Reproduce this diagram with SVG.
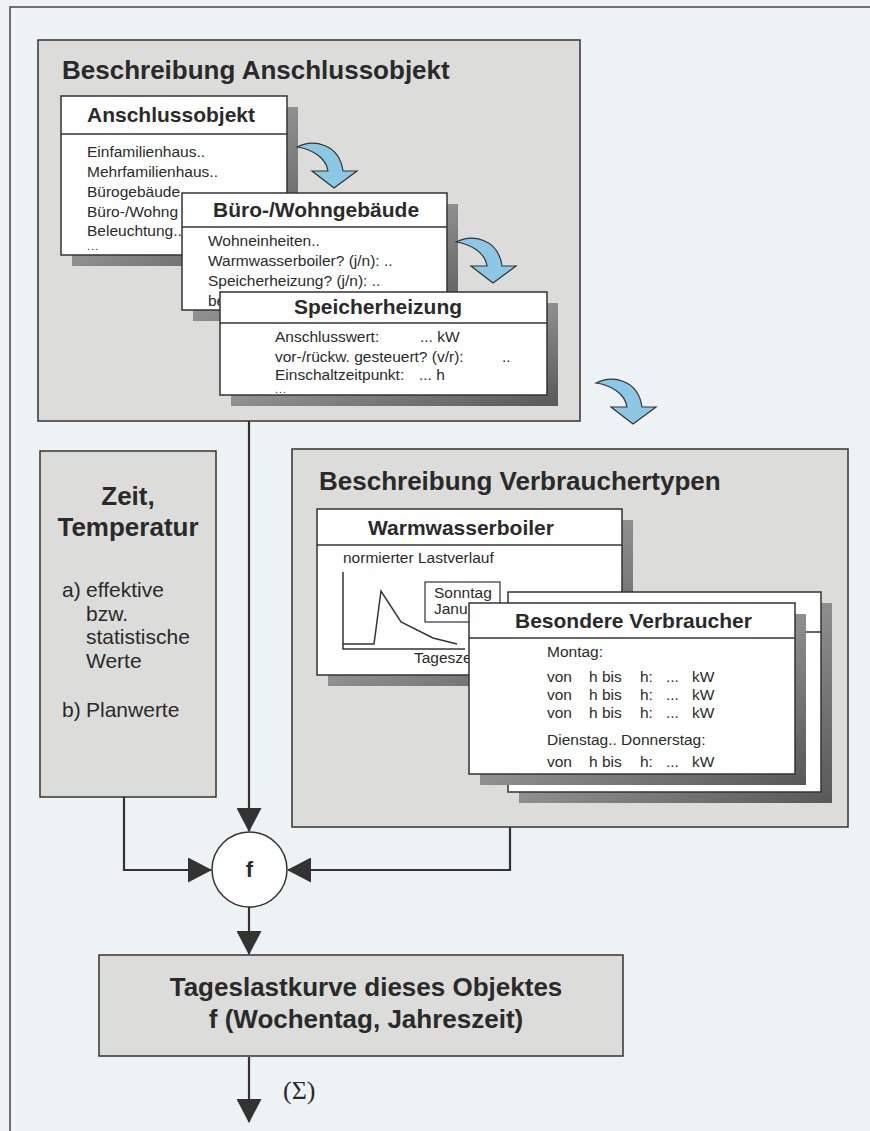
<svg xmlns="http://www.w3.org/2000/svg" width="870" height="1131" viewBox="0 0 870 1131">
<style>
.bg{fill:#edf2f5}
.frame{fill:none;stroke:#444;stroke-width:1.5}
.panel{fill:#dcdcda;stroke:#333;stroke-width:1.5}
.box{fill:#fff;stroke:#333;stroke-width:1.5}
.div{stroke:#333;stroke-width:1.5}
.shadow{fill:url(#sh)}
.t1{font-family:"Liberation Sans",Arial,sans-serif;font-weight:bold;font-size:26px;fill:#2a2a2a}
.t2{font-family:"Liberation Sans",Arial,sans-serif;font-weight:bold;font-size:21px;fill:#2a2a2a}
.t3{font-family:"Liberation Sans",Arial,sans-serif;font-size:15.5px;fill:#2a2a2a}
.dots{font-family:"Liberation Sans",Arial,sans-serif;font-size:11px;letter-spacing:1px;fill:#2a2a2a}
.t4{font-family:"Liberation Sans",Arial,sans-serif;font-size:21px;fill:#2a2a2a}
.conn{fill:none;stroke:#333;stroke-width:2.2}
.chart{fill:none;stroke:#333;stroke-width:1.5}
.barrow{fill:#8cc8e6;stroke:#333;stroke-width:1.2;stroke-linejoin:miter}
</style>
<defs>
<linearGradient id="sh" x1="0" y1="0" x2="1" y2="1">
<stop offset="0" stop-color="#c4c4c4"/>
<stop offset="1" stop-color="#585858"/>
</linearGradient>
<marker id="ah" viewBox="0 0 24 25" markerWidth="24" markerHeight="25" refX="23" refY="12.5" orient="auto" markerUnits="userSpaceOnUse">
<path d="M0,0 L24,12.5 L0,25 Z" fill="#333"/>
</marker>
<path id="curl" d="M0,0 C16,-8 42,-4 46,24 L60,24 L37,41 L15,24 L31,24 C29,10 14,2 0,0 Z"/>
</defs>
<rect class="bg" x="0" y="0" width="870" height="1131"/>
<path class="frame" d="M10,1131 V7 H870"/>

<g id="panel-anschluss">
<rect class="panel" x="38" y="40" width="542" height="381"/>
<text class="t1" x="62" y="79">Beschreibung Anschlussobjekt</text>
</g>

<g id="box-anschlussobjekt">
<rect class="shadow" x="72" y="107" width="226" height="159"/>
<rect class="box" x="61" y="96" width="226" height="159"/>
<line class="div" x1="61" y1="134" x2="287" y2="134"/>
<text class="t2" x="87" y="122">Anschlussobjekt</text>
<text class="t3" x="87" y="157">Einfamilienhaus..</text>
<text class="t3" x="87" y="177">Mehrfamilienhaus..</text>
<text class="t3" x="87" y="197">Bürogebäude</text>
<text class="t3" x="87" y="217">Büro-/Wohng</text>
<text class="t3" x="87" y="236">Beleuchtung..</text>
<text class="dots" x="87" y="250">...</text>
</g>

<g id="arrow-1"><use href="#curl" class="barrow" transform="translate(297,147)"/></g>

<g id="box-buero">
<rect class="shadow" x="193" y="204" width="265" height="117"/>
<rect class="box" x="182" y="193" width="265" height="117"/>
<line class="div" x1="182" y1="227" x2="447" y2="227"/>
<text class="t2" x="213" y="217">Büro-/Wohngebäude</text>
<text class="t3" x="208" y="246">Wohneinheiten..</text>
<text class="t3" x="208" y="266">Warmwasserboiler? (j/n): ..</text>
<text class="t3" x="208" y="286">Speicherheizung? (j/n): ..</text>
<text class="t3" x="208" y="306">be</text>
</g>

<g id="arrow-2"><use href="#curl" class="barrow" transform="translate(456,242)"/></g>

<g id="box-speicher">
<rect class="shadow" x="231" y="303" width="327" height="103"/>
<rect class="box" x="220" y="292" width="327" height="103"/>
<line class="div" x1="220" y1="323" x2="547" y2="323"/>
<text class="t2" x="294" y="314">Speicherheizung</text>
<text class="t3" x="275" y="342">Anschlusswert:</text>
<text class="t3" x="420" y="342">... kW</text>
<text class="t3" x="275" y="362">vor-/rückw. gesteuert? (v/r):</text>
<text class="t3" x="502" y="362">..</text>
<text class="t3" x="275" y="380">Einschaltzeitpunkt:</text>
<text class="t3" x="419" y="380">... h</text>
<text class="dots" x="275" y="393">...</text>
</g>

<g id="arrow-3"><use href="#curl" class="barrow" transform="translate(596,383)"/></g>

<g id="panel-zeit">
<rect class="panel" x="40" y="451" width="176" height="346"/>
<text class="t1" x="128" y="505" text-anchor="middle">Zeit,</text>
<text class="t1" x="128" y="536" text-anchor="middle">Temperatur</text>
<text class="t4" x="62" y="597">a)</text>
<text class="t4" x="86" y="597">effektive</text>
<text class="t4" x="86" y="621">bzw.</text>
<text class="t4" x="86" y="644">statistische</text>
<text class="t4" x="86" y="668">Werte</text>
<text class="t4" x="62" y="717">b)</text>
<text class="t4" x="86" y="717">Planwerte</text>
</g>

<g id="panel-verbraucher">
<rect class="panel" x="292" y="449" width="556" height="378"/>
<text class="t1" x="319" y="490">Beschreibung Verbrauchertypen</text>
</g>

<g id="box-warmwasser">
<rect class="shadow" x="328" y="520" width="305" height="166"/>
<rect class="box" x="317" y="509" width="305" height="166"/>
<line class="div" x1="317" y1="545" x2="622" y2="545"/>
<text class="t2" x="368" y="535">Warmwasserboiler</text>
<text class="t3" x="343" y="563">normierter Lastverlauf</text>
<path class="chart" d="M343,572 V649 H465"/>
<polyline class="chart" points="343,644 374,644 381,591 401,622 433,638 457,644"/>
<rect class="box" x="425" y="582" width="75" height="40" style="stroke-width:1.2"/>
<text class="t3" x="434" y="598">Sonntag</text>
<text class="t3" x="434" y="614">Janu</text>
<text class="t3" x="414" y="663">Tagesze</text>
</g>

<g id="box-middle">
<rect class="shadow" x="519" y="603" width="313" height="200"/>
<rect class="box" x="508" y="592" width="313" height="200"/>
<line class="div" x1="508" y1="632" x2="821" y2="632"/>
</g>

<g id="box-besondere">
<rect class="shadow" x="480" y="614" width="326" height="171"/>
<rect class="box" x="469" y="603" width="326" height="171"/>
<line class="div" x1="469" y1="638" x2="795" y2="638"/>
<text class="t2" x="515" y="628">Besondere Verbraucher</text>
<text class="t3" x="547" y="657">Montag:</text>
<g class="t3">
<text x="547" y="682">von</text><text x="589" y="682">h bis</text><text x="640" y="682">h:</text><text x="666" y="682">...</text><text x="692" y="682">kW</text>
<text x="547" y="700">von</text><text x="589" y="700">h bis</text><text x="640" y="700">h:</text><text x="666" y="700">...</text><text x="692" y="700">kW</text>
<text x="547" y="718">von</text><text x="589" y="718">h bis</text><text x="640" y="718">h:</text><text x="666" y="718">...</text><text x="692" y="718">kW</text>
</g>
<text class="t3" x="547" y="745">Dienstag.. Donnerstag:</text>
<g class="t3">
<text x="547" y="767">von</text><text x="589" y="767">h bis</text><text x="640" y="767">h:</text><text x="666" y="767">...</text><text x="692" y="767">kW</text>
</g>
</g>

<g id="connectors">
<path class="conn" d="M249,421 V831" marker-end="url(#ah)"/>
<path class="conn" d="M124,797 V870 H211" marker-end="url(#ah)"/>
<path class="conn" d="M510,827 V870 H288" marker-end="url(#ah)"/>
<path class="conn" d="M249,907 V954" marker-end="url(#ah)"/>
<path class="conn" d="M249,1057 V1122" marker-end="url(#ah)"/>
</g>

<g id="node-f">
<circle cx="249.5" cy="869.5" r="37.5" fill="#fff" stroke="#333" stroke-width="1.5"/>
<text class="t2" x="249.5" y="877" text-anchor="middle" style="font-size:22px">f</text>
</g>

<g id="box-tageslast">
<rect class="panel" x="99" y="955" width="524" height="101"/>
<text class="t1" x="366" y="996" text-anchor="middle">Tageslastkurve dieses Objektes</text>
<text class="t1" x="366" y="1028" text-anchor="middle">f (Wochentag, Jahreszeit)</text>
</g>

<text id="sigma" x="283" y="1099" style="font-family:'Liberation Serif','Times New Roman',serif;font-size:26px;fill:#2a2a2a">(Σ)</text>
</svg>
